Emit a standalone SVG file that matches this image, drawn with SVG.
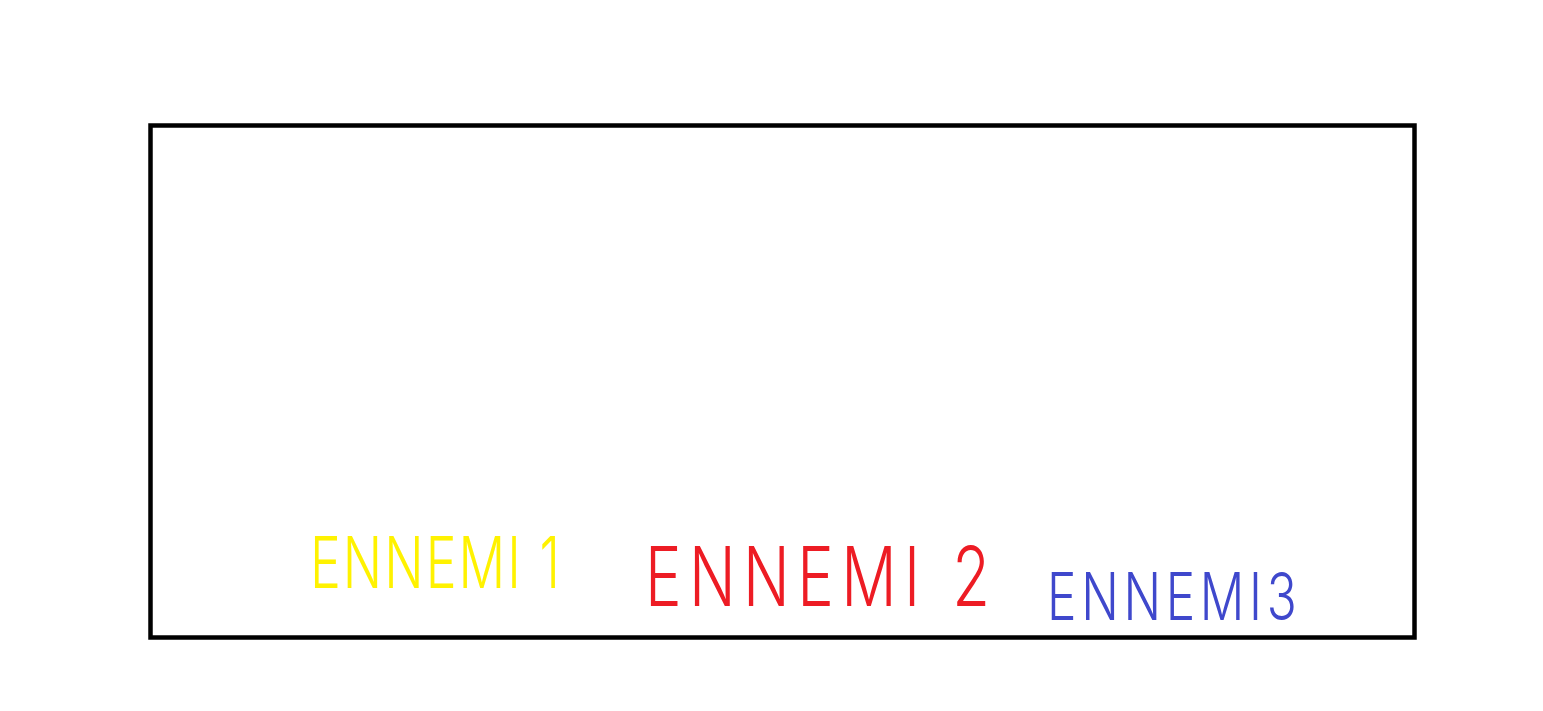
<svg xmlns="http://www.w3.org/2000/svg" width="1543" height="711" viewBox="0 0 1543 711">
  <style>
    .lbl { font-family: Inter, "Liberation Sans", sans-serif; font-weight: 300; }
  </style>
  <rect width="1543" height="711" fill="#ffffff"/>
  <g id="frame">
    <rect x="150.5" y="125.5" width="1264" height="512" fill="none" stroke="#000000" stroke-width="4.5"/>
  </g>
  <g id="ennemi1" transform="translate(310,588) scale(0.72,1)">
    <text class="lbl" x="0" y="0" font-size="72" fill="#fff200" textLength="347" lengthAdjust="spacing">ENNEMI 1</text>
  </g>
  <g id="ennemi2" transform="translate(645,606) scale(0.75,1)">
    <text class="lbl" x="0" y="0" font-size="82" fill="#ed1c24" textLength="460" lengthAdjust="spacing">ENNEMI 2</text>
  </g>
  <g id="ennemi3" transform="translate(1047,620) scale(0.75,1)">
    <text class="lbl" x="0" y="0" font-size="66" fill="#3f48cc" textLength="333" lengthAdjust="spacing">ENNEMI3</text>
  </g>
  <g id="connectors"/>
</svg>
